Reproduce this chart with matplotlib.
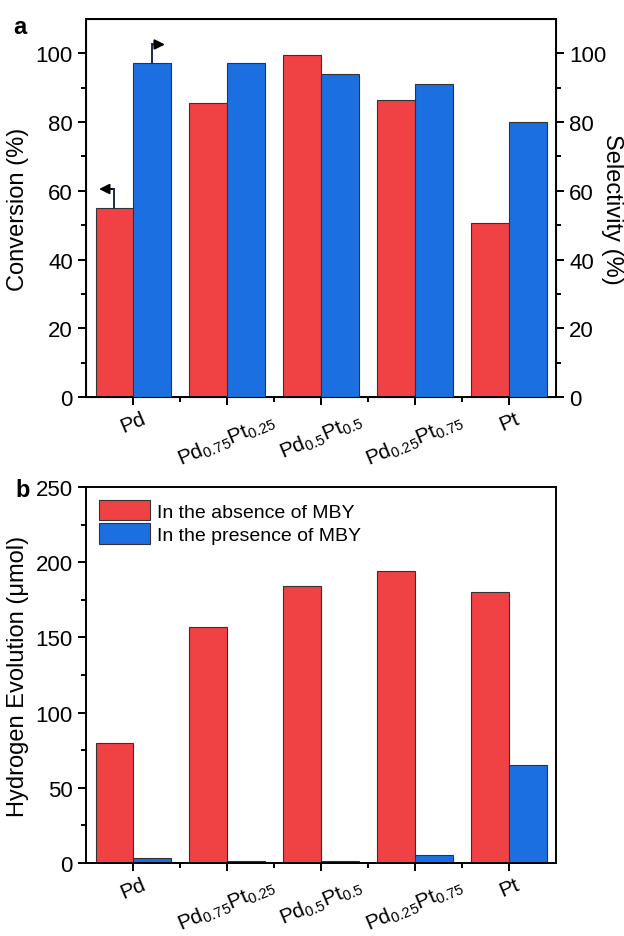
import numpy as np
import matplotlib
matplotlib.use("Agg")
from matplotlib import pyplot as plt

plt.rcParams['font.family'] = ['Liberation Sans', 'DejaVu Sans']
plt.rcParams['mathtext.fontset'] = 'custom'
plt.rcParams['mathtext.rm'] = 'Liberation Sans'
plt.rcParams['mathtext.it'] = 'Liberation Sans'
plt.rcParams['mathtext.default'] = 'regular'

catalysts = ["Pd", "Pd$_{0.75}$Pt$_{0.25}$", "Pd$_{0.5}$Pt$_{0.5}$",
             "Pd$_{0.25}$Pt$_{0.75}$", "Pt"]
conversion = [55, 85.5, 99.5, 86.5, 50.5]
selectivity = [97, 97, 94, 91, 80]
h2_absence = [80, 157, 184.5, 194, 180]
h2_presence = [3, 1, 1.5, 5, 65]
legend_labels = ["In the absence of MBY", "In the presence of MBY"]

RED = '#F04245'
BLUE = '#1B6FE0'
EDGE = '#333333'
w = 0.4
x = np.arange(len(catalysts))

fig = plt.figure(figsize=(6.24, 9.37), dpi=100)
ax1 = fig.add_axes([0.138, 0.575, 0.753, 0.404])
ax2 = fig.add_axes([0.138, 0.078, 0.753, 0.401])


def style_axis(ax):
    ax.tick_params(which='major', direction='out', length=6, width=1.4, labelsize=16)
    ax.tick_params(which='minor', direction='out', length=3.5, width=1.4)
    ax.tick_params(axis='x', which='major', pad=2)
    for s in ax.spines.values():
        s.set_linewidth(1.4)
    ax.set_xlim(-0.5, 4.5)
    ax.set_xticks(x)
    ax.set_xticks(x[:-1] + 0.5, minor=True)
    ax.set_xticklabels(catalysts, rotation=23, ha='center', fontsize=15)


# panel a
ax1.bar(x - w / 2, conversion, w, color=RED, edgecolor=EDGE, linewidth=0.8)
ax1b = ax1.twinx()
ax1b.bar(x + w / 2, selectivity, w, color=BLUE, edgecolor=EDGE, linewidth=0.8)
style_axis(ax1)
for ax in (ax1, ax1b):
    ax.set_ylim(0, 110)
    ax.set_yticks(np.arange(0, 101, 20))
    ax.set_yticks(np.arange(10, 110, 20), minor=True)
ax1b.tick_params(which='major', direction='out', length=6, width=1.4, labelsize=16)
ax1b.tick_params(which='minor', direction='out', length=3.5, width=1.4)
ax1.set_ylabel("Conversion (%)", fontsize=17, labelpad=5)
ax1b.set_ylabel("Selectivity (%)", fontsize=17, rotation=270, labelpad=12)

# arrows marking which axis each series belongs to
y0 = conversion[0]
ax1.plot([x[0] - w / 2, x[0] - w / 2], [y0, y0 + 5.5], color='#1a2a4a', lw=1.4)
ax1.annotate('', xy=(x[0] - w * 0.98, y0 + 5.5), xytext=(x[0] - w / 2 + 0.01, y0 + 5.5),
             arrowprops=dict(arrowstyle='-|>', color='black', lw=1.4, mutation_scale=15))
y1 = selectivity[0]
ax1b.plot([x[0] + w / 2, x[0] + w / 2], [y1, y1 + 5.5], color='#1a2a4a', lw=1.4)
ax1b.annotate('', xy=(x[0] + w * 0.92, y1 + 5.5), xytext=(x[0] + w / 2 - 0.01, y1 + 5.5),
              arrowprops=dict(arrowstyle='-|>', color='black', lw=1.4, mutation_scale=15))

# panel b
ax2.bar(x - w / 2, h2_absence, w, color=RED, edgecolor=EDGE, linewidth=0.8, label=legend_labels[0])
ax2.bar(x + w / 2, h2_presence, w, color=BLUE, edgecolor=EDGE, linewidth=0.8, label=legend_labels[1])
style_axis(ax2)
ax2.set_ylim(0, 250)
ax2.set_yticks(np.arange(0, 251, 50))
ax2.set_yticks(np.arange(25, 250, 50), minor=True)
ax2.set_ylabel("Hydrogen Evolution (μmol)", fontsize=17, labelpad=5)
ax2.legend(loc='upper left', frameon=False, fontsize=14, handlelength=2.63,
           handleheight=1.24, labelspacing=0.15, handletextpad=0.35,
           borderaxespad=0.25, borderpad=0.4)

fig.text(0.022, 0.971, "a", fontsize=17, fontweight='bold', ha='left', va='center')
fig.text(0.024, 0.477, "b", fontsize=17, fontweight='bold', ha='left', va='center')

fig.savefig("out.png", dpi=100)
